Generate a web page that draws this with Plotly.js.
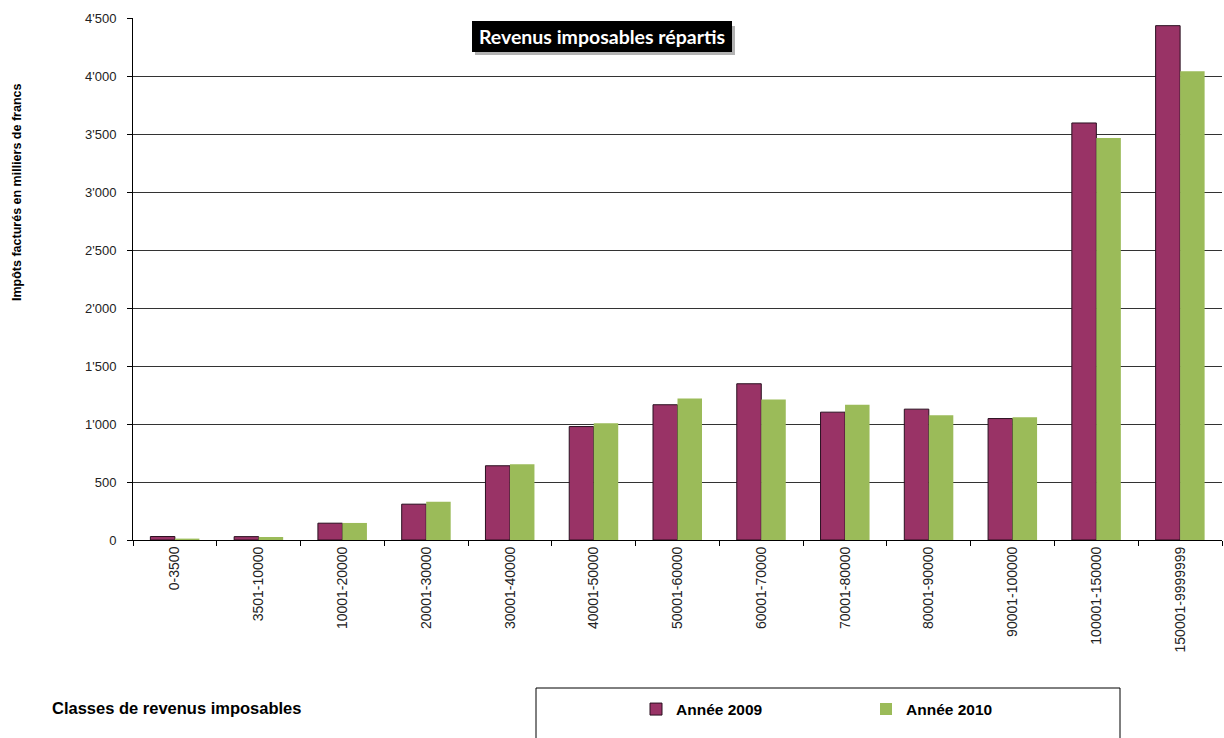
<!DOCTYPE html>
<html>
<head>
<meta charset="utf-8">
<script src="https://cdn.plot.ly/plotly-3.0.1.min.js"></script>
<style>html,body{margin:0;padding:0;background:#fff;}#chart{width:1224px;height:738px;}</style>
</head>
<body>
<div id="chart"></div>
<script>
const categories = ["0-3500","3501-10000","10001-20000","20001-30000","30001-40000","40001-50000","50001-60000","60001-70000","70001-80000","80001-90000","90001-100000","100001-150000","150001-9999999"];
const values2009 = [30, 29, 145, 309, 640, 978, 1166, 1347, 1102, 1128, 1047, 3595, 4434];
const values2010 = [12, 26, 147, 329, 652, 1006, 1220, 1212, 1166, 1076, 1058, 3465, 4040];
const name2009 = "Année 2009";
const name2010 = "Année 2010";
const yTickVals = [0, 500, 1000, 1500, 2000, 2500, 3000, 3500, 4000, 4500];
const chartTitle = "Revenus imposables répartis";
const yTitle = "Impôts facturés en milliers de francs";
const xTitle = "Classes de revenus imposables";

const FONT = "Liberation Sans, Arial, sans-serif";
// plot area in pixels: x 133..1222, y 18..540
const L = 133, R = 1222, T = 18, B = 540;
const px = x => (x - L) / (R - L);
const py = y => (B - y) / (B - T);

const traces = [
  {type: "bar", name: name2009, x: categories, y: values2009,
   marker: {color: "#993366", line: {color: "#2a1020", width: 1}}},
  {type: "bar", name: name2010, x: categories, y: values2010,
   marker: {color: "#9BBB59", line: {width: 0}}}
];

const layout = {
  width: 1224, height: 738,
  margin: {l: L, r: 1224 - R, t: T, b: 738 - B, pad: 0},
  paper_bgcolor: "#fff", plot_bgcolor: "#fff",
  separators: ".'",
  font: {family: FONT, color: "#000"},
  barmode: "group", bargap: 0.415, bargroupgap: 0,
  showlegend: true,
  legend: {orientation: "h", x: px(636), y: py(709.5), xanchor: "left", yanchor: "middle",
           font: {family: FONT, size: 15.5, color: "#000", weight: "bold"},
           bgcolor: "rgba(0,0,0,0)", borderwidth: 0,
           entrywidth: 185, entrywidthmode: "pixels", itemwidth: 30, traceorder: "normal"},
  xaxis: {type: "category", showline: true, linecolor: "#000", linewidth: 1,
          ticks: "outside", tickson: "boundaries", ticklen: 5, tickcolor: "#000",
          tickangle: -90, tickfont: {family: FONT, size: 14, color: "#222"},
          showgrid: false, zeroline: false, automargin: false},
  yaxis: {range: [0, 4500], tickvals: yTickVals, tickformat: ",",
          showline: true, linecolor: "#000", linewidth: 1,
          ticks: "outside", ticklen: 5, tickcolor: "#000",
          tickfont: {family: FONT, size: 13, color: "#222"}, ticklabelstandoff: 8,
          showgrid: true, gridcolor: "#333", gridwidth: 1, zeroline: false, automargin: false},
  shapes: [
    {type: "rect", xref: "paper", yref: "paper", x0: px(475), x1: px(735), y0: py(55), y1: py(26),
     fillcolor: "rgba(0,0,0,0.3)", line: {width: 0}, layer: "above"},
    {type: "rect", xref: "paper", yref: "paper", x0: px(536), x1: px(1120), y0: py(760), y1: py(688),
     fillcolor: "rgba(0,0,0,0)", line: {color: "#000", width: 1}, layer: "above"}
  ],
  annotations: [
    {text: "<b>" + chartTitle + "</b>", xref: "paper", yref: "paper", x: px(601.5), y: py(37),
     xanchor: "center", yanchor: "middle", showarrow: false,
     font: {family: "Lato, Open Sans, sans-serif", size: 19.5, color: "#fff"},
     bgcolor: "#000", bordercolor: "#000", borderwidth: 1, borderpad: 1, width: 256, height: 27},
    {text: "<b>" + yTitle + "</b>", xref: "paper", yref: "paper", x: px(17), y: py(193),
     xanchor: "center", yanchor: "middle", textangle: -90, showarrow: false,
     font: {family: FONT, size: 12.5, color: "#000"}},
    {text: "<b>" + xTitle + "</b>", xref: "paper", yref: "paper", x: px(50), y: py(708),
     xanchor: "left", yanchor: "middle", showarrow: false,
     font: {family: FONT, size: 16.5, color: "#000"}}
  ]
};

Plotly.newPlot("chart", traces, layout, {displayModeBar: false, staticPlot: true});
</script>
</body>
</html>
